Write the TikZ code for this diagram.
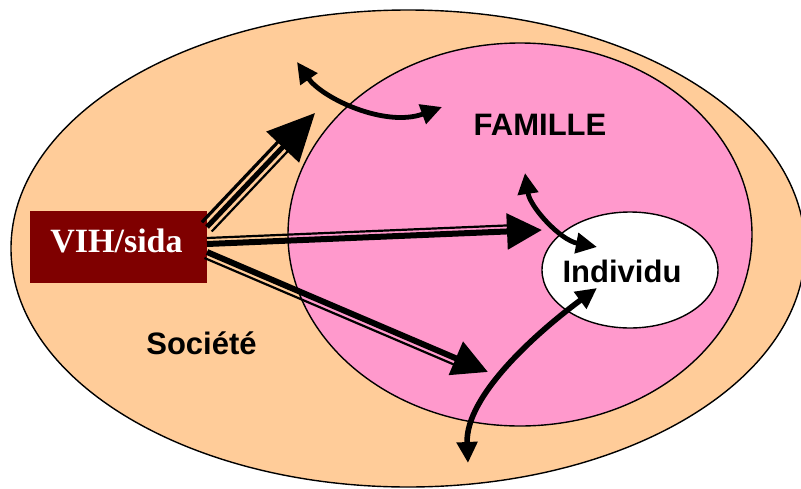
\documentclass[tikz,border=0pt]{standalone}
\usepackage{fontspec}
\setmainfont{Liberation Serif}
\newfontfamily\arialfont{Liberation Sans}
\usetikzlibrary{shapes.geometric,arrows.meta,calc}
\definecolor{peach}{HTML}{FFCC99}
\definecolor{rose}{HTML}{FF99CC}
\definecolor{darkmaroon}{HTML}{7F0000}
\begin{document}
\begin{tikzpicture}[x=1pt,y=-1pt,
  zone/.style={ellipse,draw=black,line width=1.4pt,inner sep=0pt},
  lbl/.style={anchor=base,font=\arialfont\bfseries\fontsize{31}{36}\selectfont},
  bigtip/.style={-{Triangle[length=35pt,width=35pt]}},
  curv/.style={line width=4.8pt,{Triangle[length=21pt,width=20pt]}-{Triangle[length=21pt,width=20pt]}}]
\useasboundingbox (0,0) rectangle (801,488);
% zones
\node[zone,fill=peach,minimum width=794pt,minimum height=477pt] (soc) at (408,248.5) {};
\node[zone,fill=rose,minimum width=464pt,minimum height=383pt] (fam) at (520,234.5) {};
\node[zone,fill=white,minimum width=176pt,minimum height=116pt] (ind) at (630,270) {};
% labels
\node[lbl] (soctxt) at (201.5,354) {Société};
\node[lbl] (famtxt) at (540,135) {FAMILLE};
\node[lbl] (indtxt) at (622,282) {Individu};
% VIH box
\node[fill=darkmaroon,minimum width=177pt,minimum height=72pt,inner sep=0pt] (vih) at (118.5,247) {};
\node[anchor=base,text=white,font=\bfseries\fontsize{34}{40}\selectfont] (vihtxt) at (116.5,252.7) {VIH/sida};
% arrow A (up-right), three lines
\coordinate (a0) at (207,227);
\coordinate (a1) at (315,113);
\coordinate (ab) at ($(a1)!42pt!(a0)$);
\draw[line width=5pt,-{Triangle[length=47pt,width=44pt]}] (a0) -- (a1);
\draw[line width=3.2pt] ($(a0)!7pt!90:(a1)$) -- ($(ab)!7pt!-90:(a0)$);
\draw[line width=2.2pt] ($(a0)!6.5pt!-90:(a1)$) -- ($(ab)!6.5pt!90:(a0)$);
% arrow B (horizontal)
\coordinate (b0) at (207,244);
\coordinate (b1) at (542,230);
\coordinate (bb) at ($(b1)!30pt!(b0)$);
\draw[line width=6pt,bigtip] (b0) -- (b1);
\draw[line width=2.2pt] ($(b0)!6pt!90:(b1)$) -- ($(bb)!6pt!-90:(b0)$);
% arrow C (down-right)
\coordinate (c0) at (207,252);
\coordinate (c1) at (488,372);
\coordinate (cb) at ($(c1)!30pt!(c0)$);
\draw[line width=6pt,bigtip] (c0) -- (c1);
\draw[line width=2.2pt] ($(c0)!6.5pt!-90:(c1)$) -- ($(cb)!6.5pt!90:(c0)$);
% curved double arrows
\coordinate (d0) at (297,62);
\coordinate (d1) at (442,107);
\draw[curv] (d0) .. controls (322,98) and (385,128) .. (d1);
\coordinate (e0) at (525,173);
\coordinate (e1) at (597,247);
\draw[curv] (e0) .. controls (530,207) and (560,240) .. (e1);
\coordinate (f0) at (597,288);
\coordinate (f1) at (468,463);
\draw[curv,line width=5.6pt] (f0) .. controls (540,330) and (465,395) .. (f1);
\end{tikzpicture}
\end{document}
